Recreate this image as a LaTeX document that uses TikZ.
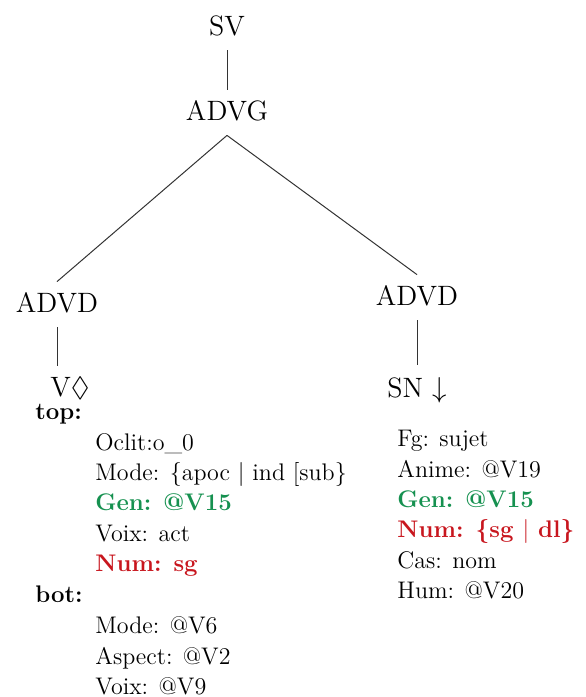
\documentclass[tikz,border=0pt]{standalone}
\usepackage{amsmath,amssymb}
\usepackage{tikz}
\usetikzlibrary{positioning,calc}
\definecolor{gengreen}{HTML}{169150}
\definecolor{numred}{HTML}{C8161E}
\definecolor{branchgrey}{HTML}{333333}

\begin{document}
\begin{tikzpicture}[
  x=0.5pt,y=-0.5pt,
  treenode/.style={font=\fontsize{14}{17}\selectfont,inner xsep=1pt,inner ysep=5pt,text depth=2.5pt,anchor=base},
  leafnode/.style={treenode,inner ysep=0pt,text depth=0pt},
  feat/.style={font=\fontsize{12}{15}\selectfont,inner sep=0pt,anchor=base west},
  feathead/.style={feat,font=\fontsize{12}{15}\selectfont\bfseries},
  featgen/.style={feat,font=\fontsize{12}{15}\selectfont\bfseries,text=gengreen},
  featnum/.style={feat,font=\fontsize{12}{15}\selectfont\bfseries,text=numred},
  branch/.style={draw=branchgrey,line width=0.5pt},
]
\useasboundingbox (0,0) rectangle (585,697);

% Tree
\node[treenode] (sv)    at (227,35)  {SV};
\node[treenode] (advg)  at (227,120) {ADVG};
\node[treenode] (advdl) at (57,312)  {ADVD};
\node[treenode] (advdr) at (417,305) {ADVD};
\node[leafnode,anchor=base west,inner xsep=0pt] (vleaf) at (50,396) {V$\lozenge$};
\node[leafnode] (snleaf) at (417,397) {SN $\downarrow$};
\draw[branch] (sv) -- (advg);
\draw[branch] (advg.south) -- (advdl.north);
\draw[branch] (advg.south) -- (advdr.north);
\draw[branch,shorten >=5pt] (advdl.south) -- (advdl.south |- vleaf.north);
\draw[branch,shorten >=6pt] (advdr.south) -- (snleaf.north);

% Features of V (left)
\node[feathead] (vtop)    at (35,419) {top:};
\node[feat]     (voclit)  at (95,450) {Oclit:o\_0};
\node[feat]     (vmode)   at (95,480) {Mode: \{apoc $|$ ind [sub\}};
\node[featgen]  (vgen)    at (95,510) {Gen: @V15};
\node[feat]     (vvoix)   at (95,541) {Voix: act};
\node[featnum]  (vnum)    at (95,571) {Num: sg};
\node[feathead] (vbot)    at (35,602) {bot:};
\node[feat]     (vbmode)  at (95,633) {Mode: @V6};
\node[feat]     (vbasp)   at (95,664) {Aspect: @V2};
\node[feat]     (vbvoix)  at (95,694) {Voix: @V9};

% Features of SN (right)
\node[feat]    (sfg)   at (397,446) {Fg: sujet};
\node[feat]    (sanim) at (397,477) {Anime: @V19};
\node[featgen] (sgen)  at (397,507) {Gen: @V15};
\node[featnum] (snum)  at (397,537) {Num: \{sg $|$ dl\}};
\node[feat]    (scas)  at (397,568) {Cas: nom};
\node[feat]    (shum)  at (397,598) {Hum: @V20};
\end{tikzpicture}
\end{document}
